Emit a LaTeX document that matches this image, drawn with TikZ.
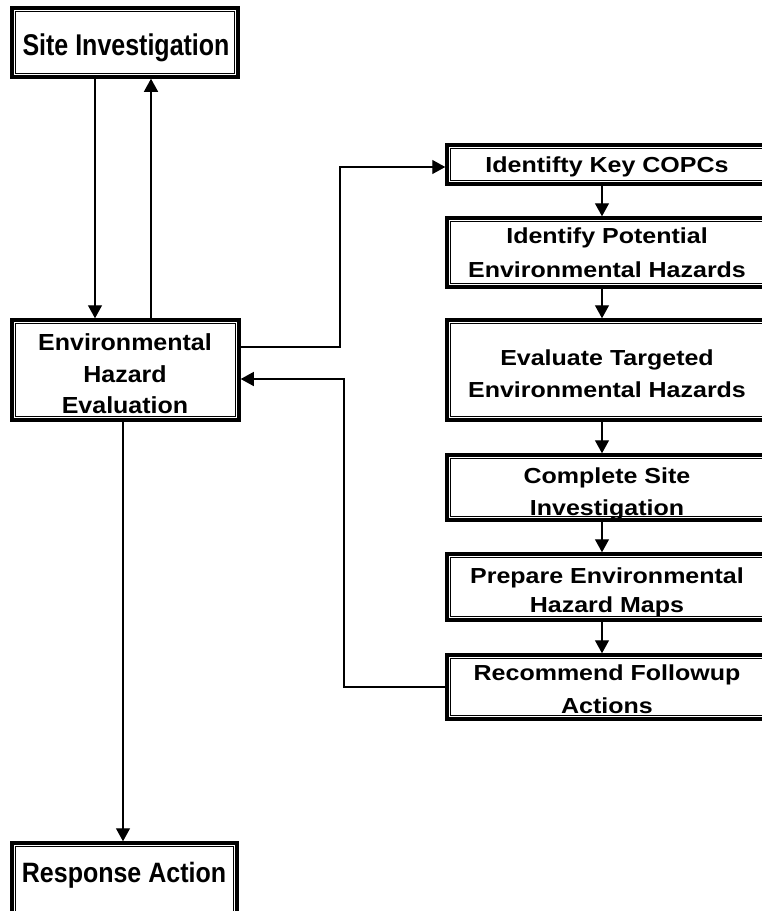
\documentclass[tikz,border=0pt]{standalone}
\usepackage{fontspec}
\setmainfont{Liberation Sans}
\usetikzlibrary{arrows.meta}
\tikzset{
  obox/.style={draw, line width=3.5pt, fill=white, inner sep=0pt},
  ibox/.style={draw, line width=1.2pt},
  conn/.style={draw, line width=1.3pt},
  arr/.style={conn, -{Triangle[length=13pt,width=14pt]}},
  txt/.style={anchor=base, inner sep=0pt, font=\fontsize{25}{30}\selectfont\bfseries},
}
% #1 name, #2 x1, #3 y1, #4 x2, #5 y2 (outer line centres, px)
\newcommand{\dblbox}[5]{%
  \node[obox, minimum width=#4pt-#2pt, minimum height=#5pt-#3pt] (#1) at ({(#2+#4)/2},{(#3+#5)/2}) {};
  \draw[ibox] ([shift={(5.3pt,-5.3pt)}]#1.north west) rectangle ([shift={(-5.3pt,5.3pt)}]#1.south east);
}
\newcommand{\vsc}[2]{\scalebox{1}[#1]{#2}}
\begin{document}
\begin{tikzpicture}[x=1pt,y=-1pt]
\useasboundingbox (0,0) rectangle (762,911);
\clip (0,0) rectangle (762,911);
\fill[white] (0,0) rectangle (762,911);

% left column
\dblbox{si}{12}{8}{238}{77}
\dblbox{ehe}{12}{320}{239}{420}
\dblbox{ra}{12}{843}{237}{930}
% right column
\dblbox{ik}{447}{145}{767}{184}
\dblbox{ip}{447}{218}{767}{287}
\dblbox{et}{447}{320}{767}{420}
\dblbox{cs}{447}{455}{767}{520}
\dblbox{pe}{447}{554}{767}{620}
\dblbox{rf}{447}{655}{767}{719}

% texts
\node[txt] (si-t) at (126,55) {\vsc{1.2}{Site Investigation}};
\node[txt] (ehe-t1) at (125,350) {\vsc{0.93}{Environmental}};
\node[txt] (ehe-t2) at (125,382) {\vsc{0.93}{Hazard}};
\node[txt] (ehe-t3) at (125,413) {\vsc{0.93}{Evaluation}};
\node[txt] (ra-t) at (124,882) {\vsc{1.12}{Response Action}};

\node[txt] (ik-t) at (607,172) {\vsc{0.87}{Identifty Key COPCs}};
\node[txt] (ip-t1) at (607,243) {\vsc{0.87}{Identify Potential}};
\node[txt] (ip-t2) at (607,277) {\vsc{0.87}{Environmental Hazards}};
\node[txt] (et-t1) at (607,365) {\vsc{0.87}{Evaluate Targeted}};
\node[txt] (et-t2) at (607,397) {\vsc{0.87}{Environmental Hazards}};
\node[txt] (cs-t1) at (607,483) {\vsc{0.87}{Complete Site}};
\node[txt] (cs-t2) at (607,515) {\vsc{0.87}{Investigation}};
\node[txt] (pe-t1) at (607,583) {\vsc{0.87}{Prepare Environmental}};
\node[txt] (pe-t2) at (607,612) {\vsc{0.87}{Hazard Maps}};
\node[txt] (rf-t1) at (607,680) {\vsc{0.87}{Recommend Followup}};
\node[txt] (rf-t2) at (607,713) {\vsc{0.87}{Actions}};

% connector guides
\coordinate (xa) at (95,0);
\coordinate (xb) at (151,0);
\coordinate (xc) at (123,0);
\coordinate (xr) at (602,0);
\coordinate (c1) at (340,347);
\coordinate (c2) at (340,167);
\coordinate (c3) at (344,379);

% left connectors
\draw[arr] (xa |- si.south) -- (xa |- ehe.north);
\draw[arr] (xb |- ehe.north) -- (xb |- si.south);
\draw[arr] (xc |- ehe.south) -- (xc |- ra.north);

% to right column and back
\draw[arr] (c1 -| ehe.east) -- (c1) -- (c2) -- (c2 -| ik.west);
\draw[arr] (rf.west) -| (c3) -- (c3 -| ehe.east);

% right column chain
\draw[arr] (xr |- ik.south) -- (xr |- ip.north);
\draw[arr] (xr |- ip.south) -- (xr |- et.north);
\draw[arr] (xr |- et.south) -- (xr |- cs.north);
\draw[arr] (xr |- cs.south) -- (xr |- pe.north);
\draw[arr] (xr |- pe.south) -- (xr |- rf.north);
\end{tikzpicture}
\end{document}
